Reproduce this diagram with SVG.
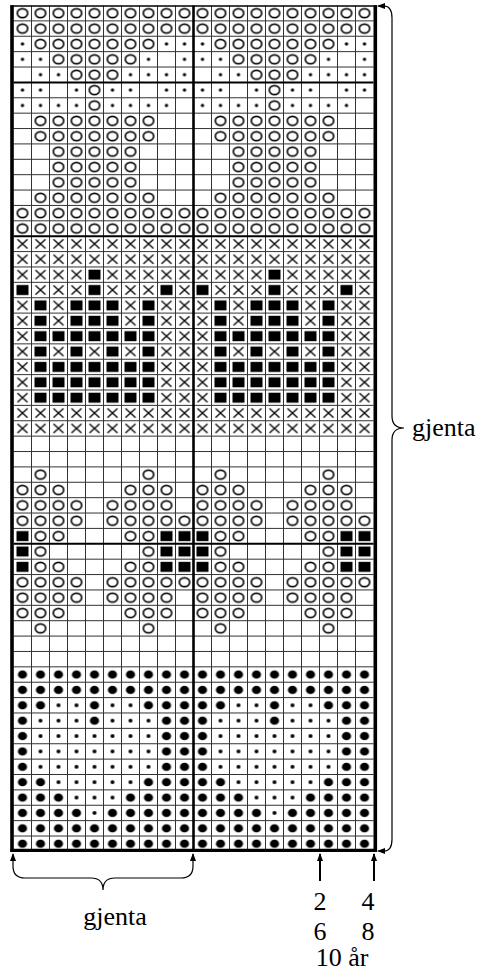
<svg xmlns="http://www.w3.org/2000/svg" xmlns:xlink="http://www.w3.org/1999/xlink" width="487" height="977" viewBox="0 0 487 977">
<style>
.O{fill:url(#pO)}.d{fill:url(#pd)}.X{fill:url(#pX)}.S{fill:url(#pS)}.B{fill:url(#pB)}.s{fill:url(#ps)}
.thin{fill:none;stroke:#333;stroke-width:1}
.thick{fill:none;stroke:#000}
.lbl{font-family:"Liberation Serif","Times New Roman",serif;font-size:26px;fill:#000}
.brace{fill:none;stroke:#000;stroke-width:1.2}
.arr{fill:none;stroke:#000;stroke-width:2}
</style>
<defs>
<pattern id="pO" patternUnits="userSpaceOnUse" x="13.5" y="5.5" width="18" height="15.38"><ellipse cx="9" cy="7.69" rx="5.2" ry="4.5" fill="none" stroke="#000" stroke-width="1.6"/></pattern>
<pattern id="pd" patternUnits="userSpaceOnUse" x="13.5" y="5.5" width="18" height="15.38"><circle cx="9" cy="7.69" r="1.7" fill="#000"/></pattern>
<pattern id="pX" patternUnits="userSpaceOnUse" x="13.5" y="5.5" width="18" height="15.38"><path d="M4 3.2L14 12.2M14 3.2L4 12.2" stroke="#000" stroke-width="1.4"/></pattern>
<pattern id="pS" patternUnits="userSpaceOnUse" x="13.5" y="5.5" width="18" height="15.38"><rect x="3" y="2.69" width="12" height="10" fill="#000"/></pattern>
<pattern id="pB" patternUnits="userSpaceOnUse" x="13.5" y="5.5" width="18" height="15.38"><ellipse cx="9" cy="7.69" rx="4.6" ry="4.2" fill="#000"/></pattern>
<pattern id="ps" patternUnits="userSpaceOnUse" x="13.5" y="5.5" width="18" height="15.38"><circle cx="9" cy="7.69" r="2" fill="#000"/></pattern>
<marker id="ah" viewBox="0 0 8 6" refX="7" refY="3" markerWidth="8" markerHeight="6" markerUnits="userSpaceOnUse" orient="auto-start-reverse"><path d="M0 0L8 3L0 6z" fill="#000"/></marker>
</defs>
<rect width="487" height="977" fill="#fff"/>
<g id="chart">
<g id="repeat">
<!-- O -->
<rect class="O" x="13.5" y="5.5" width="180" height="30.76"/>
<rect class="O" x="31.5" y="36.26" width="126" height="15.38"/>
<rect class="O" x="49.5" y="51.64" width="90" height="15.38"/>
<rect class="O" x="67.5" y="67.02" width="54" height="15.38"/>
<rect class="O" x="85.5" y="82.4" width="18" height="30.76"/>
<rect class="O" x="31.5" y="113.16" width="126" height="30.76"/>
<rect class="O" x="49.5" y="143.92" width="90" height="46.14"/>
<rect class="O" x="31.5" y="190.06" width="126" height="15.38"/>
<rect class="O" x="13.5" y="205.44" width="180" height="30.76"/>
<rect class="O" x="31.5" y="466.9" width="18" height="15.38"/>
<rect class="O" x="139.5" y="466.9" width="18" height="15.38"/>
<rect class="O" x="13.5" y="482.28" width="54" height="15.38"/>
<rect class="O" x="121.5" y="482.28" width="54" height="15.38"/>
<rect class="O" x="13.5" y="497.66" width="72" height="15.38"/>
<rect class="O" x="103.5" y="497.66" width="72" height="15.38"/>
<rect class="O" x="13.5" y="513.04" width="72" height="15.38"/>
<rect class="O" x="103.5" y="513.04" width="90" height="15.38"/>
<rect class="O" x="31.5" y="528.42" width="36" height="15.38"/>
<rect class="O" x="121.5" y="528.42" width="36" height="15.38"/>
<rect class="O" x="31.5" y="543.8" width="18" height="15.38"/>
<rect class="O" x="139.5" y="543.8" width="18" height="15.38"/>
<rect class="O" x="31.5" y="559.18" width="36" height="15.38"/>
<rect class="O" x="121.5" y="559.18" width="36" height="15.38"/>
<rect class="O" x="13.5" y="574.56" width="72" height="15.38"/>
<rect class="O" x="103.5" y="574.56" width="90" height="15.38"/>
<rect class="O" x="13.5" y="589.94" width="72" height="15.38"/>
<rect class="O" x="103.5" y="589.94" width="72" height="15.38"/>
<rect class="O" x="13.5" y="605.32" width="54" height="15.38"/>
<rect class="O" x="121.5" y="605.32" width="54" height="15.38"/>
<rect class="O" x="31.5" y="620.7" width="18" height="15.38"/>
<rect class="O" x="139.5" y="620.7" width="18" height="15.38"/>
<!-- tiny dots -->
<rect class="d" x="13.5" y="36.26" width="18" height="15.38"/>
<rect class="d" x="157.5" y="36.26" width="36" height="15.38"/>
<rect class="d" x="13.5" y="51.64" width="36" height="15.38"/>
<rect class="d" x="139.5" y="51.64" width="18" height="15.38"/>
<rect class="d" x="175.5" y="51.64" width="18" height="15.38"/>
<rect class="d" x="31.5" y="67.02" width="36" height="15.38"/>
<rect class="d" x="121.5" y="67.02" width="72" height="15.38"/>
<rect class="d" x="13.5" y="82.4" width="36" height="15.38"/>
<rect class="d" x="67.5" y="82.4" width="18" height="15.38"/>
<rect class="d" x="103.5" y="82.4" width="36" height="15.38"/>
<rect class="d" x="157.5" y="82.4" width="36" height="15.38"/>
<rect class="d" x="13.5" y="97.78" width="72" height="15.38"/>
<rect class="d" x="103.5" y="97.78" width="72" height="15.38"/>
<!-- X -->
<rect class="X" x="13.5" y="236.2" width="180" height="30.76"/>
<rect class="X" x="13.5" y="266.96" width="72" height="15.38"/>
<rect class="X" x="103.5" y="266.96" width="90" height="15.38"/>
<rect class="X" x="31.5" y="282.34" width="54" height="15.38"/>
<rect class="X" x="103.5" y="282.34" width="54" height="15.38"/>
<rect class="X" x="175.5" y="282.34" width="18" height="15.38"/>
<rect class="X" x="13.5" y="297.72" width="18" height="138.42"/>
<rect class="X" x="157.5" y="297.72" width="36" height="138.42"/>
<rect class="X" x="49.5" y="297.72" width="18" height="30.76"/>
<rect class="X" x="121.5" y="297.72" width="18" height="30.76"/>
<rect class="X" x="49.5" y="343.86" width="18" height="15.38"/>
<rect class="X" x="85.5" y="343.86" width="18" height="15.38"/>
<rect class="X" x="121.5" y="343.86" width="18" height="15.38"/>
<rect class="X" x="31.5" y="405.38" width="126" height="30.76"/>
<!-- squares -->
<rect class="S" x="85.5" y="266.96" width="18" height="15.38"/>
<rect class="S" x="13.5" y="282.34" width="18" height="15.38"/>
<rect class="S" x="85.5" y="282.34" width="18" height="15.38"/>
<rect class="S" x="157.5" y="282.34" width="18" height="15.38"/>
<rect class="S" x="31.5" y="297.72" width="18" height="30.76"/>
<rect class="S" x="67.5" y="297.72" width="54" height="30.76"/>
<rect class="S" x="139.5" y="297.72" width="18" height="30.76"/>
<rect class="S" x="31.5" y="328.48" width="126" height="15.38"/>
<rect class="S" x="31.5" y="343.86" width="18" height="15.38"/>
<rect class="S" x="67.5" y="343.86" width="18" height="15.38"/>
<rect class="S" x="103.5" y="343.86" width="18" height="15.38"/>
<rect class="S" x="139.5" y="343.86" width="18" height="15.38"/>
<rect class="S" x="31.5" y="359.24" width="126" height="46.14"/>
<rect class="S" x="13.5" y="528.42" width="18" height="46.14"/>
<rect class="S" x="157.5" y="528.42" width="36" height="46.14"/>
<!-- big dots -->
<rect class="B" x="13.5" y="666.84" width="180" height="30.76"/>
<rect class="B" x="13.5" y="697.6" width="36" height="15.38"/>
<rect class="B" x="85.5" y="697.6" width="18" height="15.38"/>
<rect class="B" x="139.5" y="697.6" width="54" height="15.38"/>
<rect class="B" x="13.5" y="712.98" width="18" height="15.38"/>
<rect class="B" x="85.5" y="712.98" width="18" height="15.38"/>
<rect class="B" x="157.5" y="712.98" width="36" height="15.38"/>
<rect class="B" x="13.5" y="728.36" width="18" height="46.14"/>
<rect class="B" x="157.5" y="728.36" width="36" height="46.14"/>
<rect class="B" x="13.5" y="774.5" width="36" height="15.38"/>
<rect class="B" x="139.5" y="774.5" width="54" height="15.38"/>
<rect class="B" x="13.5" y="789.88" width="54" height="15.38"/>
<rect class="B" x="121.5" y="789.88" width="72" height="15.38"/>
<rect class="B" x="13.5" y="805.26" width="72" height="15.38"/>
<rect class="B" x="103.5" y="805.26" width="90" height="15.38"/>
<rect class="B" x="13.5" y="820.64" width="180" height="30.76"/>
<!-- small dots -->
<rect class="s" x="49.5" y="697.6" width="36" height="15.38"/>
<rect class="s" x="103.5" y="697.6" width="36" height="15.38"/>
<rect class="s" x="31.5" y="712.98" width="54" height="15.38"/>
<rect class="s" x="103.5" y="712.98" width="54" height="15.38"/>
<rect class="s" x="31.5" y="728.36" width="126" height="46.14"/>
<rect class="s" x="49.5" y="774.5" width="90" height="15.38"/>
<rect class="s" x="67.5" y="789.88" width="54" height="15.38"/>
<rect class="s" x="85.5" y="805.26" width="18" height="15.38"/>
</g>
<use href="#repeat" xlink:href="#repeat" x="180" y="0"/>
<g id="grid">
<path class="thin" d="M31.5 5.5V851.4M49.5 5.5V851.4M67.5 5.5V851.4M85.5 5.5V851.4M103.5 5.5V851.4M121.5 5.5V851.4M139.5 5.5V851.4M157.5 5.5V851.4M175.5 5.5V851.4M211.5 5.5V851.4M229.5 5.5V851.4M247.5 5.5V851.4M265.5 5.5V851.4M283.5 5.5V851.4M301.5 5.5V851.4M319.5 5.5V851.4M337.5 5.5V851.4M355.5 5.5V851.4"/>
<path class="thin" d="M13.5 20.88H373.5M13.5 36.26H373.5M13.5 51.64H373.5M13.5 67.02H373.5M13.5 97.78H373.5M13.5 113.16H373.5M13.5 128.54H373.5M13.5 143.92H373.5M13.5 159.3H373.5M13.5 174.68H373.5M13.5 190.06H373.5M13.5 205.44H373.5M13.5 220.82H373.5M13.5 251.58H373.5M13.5 266.96H373.5M13.5 282.34H373.5M13.5 297.72H373.5M13.5 313.1H373.5M13.5 328.48H373.5M13.5 343.86H373.5M13.5 359.24H373.5M13.5 374.62H373.5M13.5 390H373.5M13.5 405.38H373.5M13.5 420.76H373.5M13.5 436.14H373.5M13.5 451.52H373.5M13.5 466.9H373.5M13.5 482.28H373.5M13.5 497.66H373.5M13.5 513.04H373.5M13.5 528.42H373.5M13.5 559.18H373.5M13.5 574.56H373.5M13.5 589.94H373.5M13.5 605.32H373.5M13.5 620.7H373.5M13.5 636.08H373.5M13.5 651.46H373.5M13.5 666.84H373.5M13.5 682.22H373.5M13.5 697.6H373.5M13.5 712.98H373.5M13.5 728.36H373.5M13.5 743.74H373.5M13.5 759.12H373.5M13.5 774.5H373.5M13.5 789.88H373.5M13.5 805.26H373.5M13.5 820.64H373.5M13.5 836.02H373.5"/>
<path class="thick" stroke-width="2" d="M13.5 82.4H373.5M13.5 236.2H373.5M13.5 543.8H373.5"/>
<path class="thick" stroke-width="2.6" d="M193.5 5.5V851.4"/>
<path class="thick" stroke-width="1.6" d="M10.5 6H377"/>
<path class="thick" stroke-width="3.4" d="M10.5 850.4H377"/>
<path class="thick" stroke-width="3.6" d="M12 5.2V852.1M375.3 5.2V852.1"/>
</g>
</g>
<g id="connectors">
<path class="brace" marker-start="url(#ah)" marker-end="url(#ah)" d="M378 6H384Q392 6 392 18V416Q392 428 404 428Q392 428 392 440V839Q392 851 384 851H378"/>
<path class="brace" marker-start="url(#ah)" marker-end="url(#ah)" d="M13 854V866Q13 878 25 878H91Q103 878 103 890Q103 878 115 878H181Q193 878 193 866V854"/>
<path class="arr" marker-end="url(#ah)" d="M320 881V854"/>
<path class="arr" marker-end="url(#ah)" d="M374 881V854"/>
</g>
<g id="labels">
<text class="lbl" x="412" y="436">gjenta</text>
<text class="lbl" x="115" y="925" text-anchor="middle">gjenta</text>
<text class="lbl" x="320" y="910" text-anchor="middle">2</text>
<text class="lbl" x="368" y="910" text-anchor="middle">4</text>
<text class="lbl" x="320" y="940" text-anchor="middle">6</text>
<text class="lbl" x="368" y="940" text-anchor="middle">8</text>
<text class="lbl" x="342" y="966" text-anchor="middle">10 år</text>
</g>
</svg>
